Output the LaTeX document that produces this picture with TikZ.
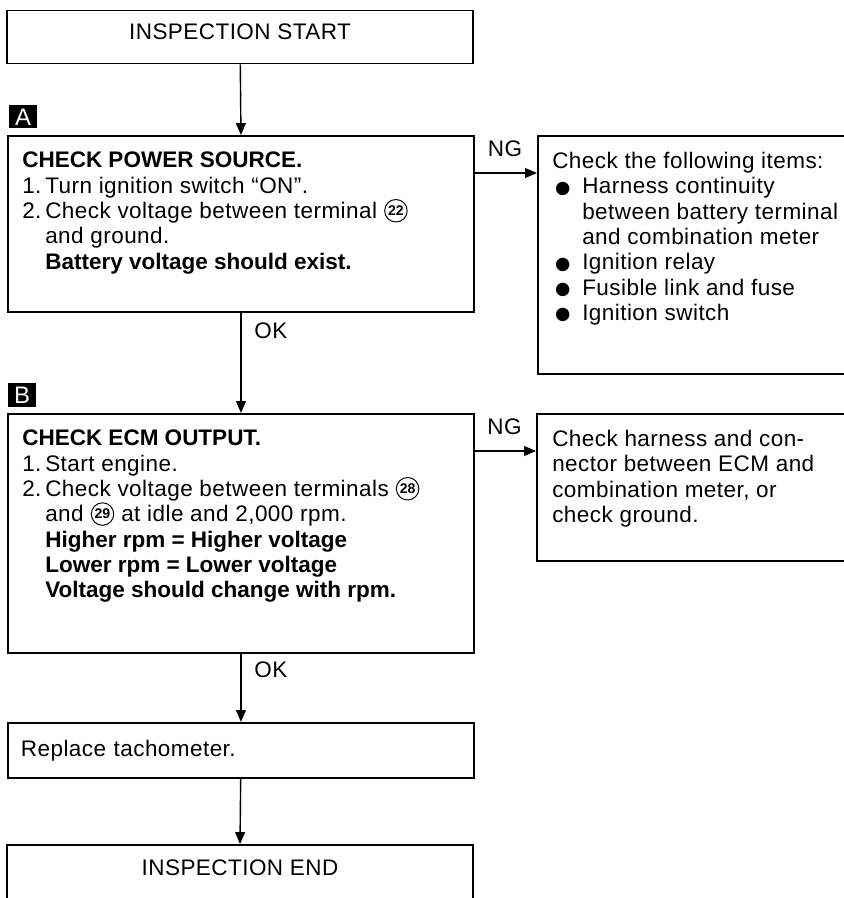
\documentclass[tikz,border=0pt]{standalone}
\usepackage{fontspec}
\setmainfont{Liberation Sans}[LetterSpace=2, BoldFeatures={LetterSpace=0}]
\newfontfamily\symfont{DejaVu Sans}
\usetikzlibrary{positioning, arrows.meta}

% circled terminal number, bullet, headline and hanging step numbers
\newcommand{\cnum}[1]{\hspace{5pt}\tikz[baseline={([yshift=-5.6pt]cn.center)}]
  \node[circle, draw, line width=0.7pt, inner sep=0pt, minimum size=16pt,
        font=\fontsize{10}{10}\selectfont\bfseries] (cn) {#1};\hspace{5pt}}
\newcommand{\itembul}{\makebox[0.75cm][l]{\hspace{2pt}\raisebox{0.5pt}{\symfont\fontsize{12.5}{12.5}\selectfont ●}}}
\newcommand{\headline}[1]{{\bfseries\addfontfeature{LetterSpace=-2}#1}}
\newcommand{\stepno}[1]{\makebox[0.575cm][l]{#1}}
\newcommand{\indnt}{\hspace*{0.575cm}}

\begin{document}
\begin{tikzpicture}[
    x=0.025cm, y=-0.025cm,
    >={Triangle[length=8.5pt, width=7pt]},
    txt/.style={font=\fontsize{16}{18}\selectfont, inner sep=0pt},
    frame/.style={draw, line width=1.3pt, inner sep=0pt, minimum width=11.65cm},
    term/.style={frame, txt, minimum height=1.325cm},
    chk/.style={frame, anchor=north west},
    fix/.style={draw, line width=1.3pt, inner sep=0pt, anchor=north west,
                minimum width=7.9cm},
    body/.style={txt, anchor=north west, align=left},
    tag/.style={fill=black, text=white, inner sep=0pt, minimum width=0.675cm,
                minimum height=0.575cm, font=\fontsize{17}{17}\selectfont},
    lbl/.style={txt},
    arr/.style={->, line width=1pt}
]
\useasboundingbox (0,0) rectangle (843,898);

\def\xmid{240}

% start
\node[term, text depth=7pt] (start) at (\xmid,37) {INSPECTION START};

% step A
\node[tag] (tagA) at (23,117) {A};
\node[chk, minimum height=4.4cm] (boxA) at (7,135) {};
\node[body] (txtA) at (22,152)
  {\headline{CHECK POWER SOURCE.}\\
   \stepno{1.}Turn ignition switch “ON”.\\
   \stepno{2.}Check voltage between terminal\cnum{22}\\
   \indnt and ground.\\
   \indnt\textbf{Battery voltage should exist.}};
\draw[arr] (start) -- (boxA.north);

\node[fix, minimum height=5.95cm] (fixA) at (537,135) {};
\node[body] (itemsA) at (552,152)
  {Check the following items:\\
   \itembul Harness continuity\\
   \hspace*{0.75cm}between battery terminal\\
   \hspace*{0.75cm}and combination meter\\
   \itembul Ignition relay\\
   \itembul Fusible link and fuse\\
   \itembul Ignition switch};
\coordinate (ngA) at (473,173);
\draw[arr] (ngA) -- node[lbl, above=11pt] (ngtA) {NG} (ngA -| fixA.west);

% step B
\node[tag] (tagB) at (22,395) {B};
\node[chk, minimum height=5.975cm] (boxB) at (7,413) {};
\node[body] (txtB) at (22,430)
  {\headline{CHECK ECM OUTPUT.}\\
   \stepno{1.}Start engine.\\
   \stepno{2.}Check voltage between terminals\cnum{28}\\
   \indnt and\cnum{29}at idle and 2,000 rpm.\\
   \indnt\textbf{Higher rpm = Higher voltage}\\
   \indnt\textbf{Lower rpm = Lower voltage}\\
   \indnt\textbf{Voltage should change with rpm.}};
\draw[arr] (boxA.south) -- node[lbl, pos=0.18, right=9pt] (okA) {OK} (boxB.north);

\node[fix, minimum height=3.675cm] (fixB) at (536,413) {};
\node[body] (itemsB) at (552,430)
  {Check harness and con-\\
   nector between ECM and\\
   combination meter, or\\
   check ground.};
\coordinate (ngB) at (473,451);
\draw[arr] (ngB) -- node[lbl, above=11pt] (ngtB) {NG} (ngB -| fixB.west);

% end
\node[chk, txt, minimum height=1.375cm, text width=11.0cm, align=left,
      inner xsep=0.325cm] (repl) at (7,722) {Replace tachometer.};
\draw[arr] (boxB.south) -- node[lbl, pos=0.23, right=9pt] (okB) {OK} (repl.north);

\node[term, minimum height=1.5cm, text depth=10pt] (endb) at (\xmid,875) {INSPECTION END};
\draw[arr] (repl) -- (endb.north);

\end{tikzpicture}
\end{document}
